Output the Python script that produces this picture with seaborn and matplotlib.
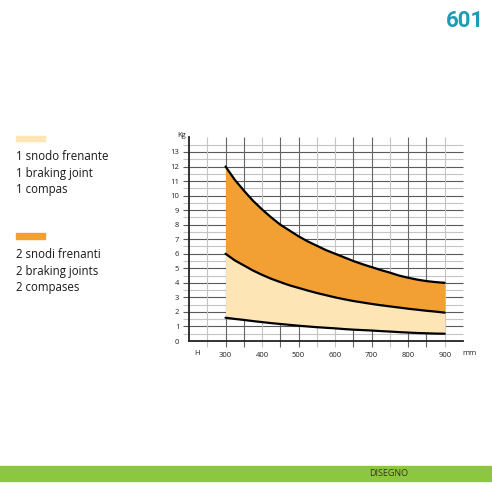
import seaborn as sns
import matplotlib.pyplot as plt
import pandas as pd
import numpy as np

# H (mm) vs weight (Kg), read every 25 mm
h = [300, 325, 350, 375, 400, 425, 450, 475, 500, 525, 550, 575, 600,
     625, 650, 675, 700, 725, 750, 775, 800, 825, 850, 875, 900]
kg_max_2 = [12.0, 11.1, 10.35, 9.65, 9.05, 8.5, 8.0, 7.6, 7.2, 6.85, 6.55, 6.25, 6.0,
            5.75, 5.5, 5.28, 5.08, 4.88, 4.7, 4.5, 4.35, 4.22, 4.12, 4.05, 4.0]
kg_mid = [6.0, 5.55, 5.2, 4.85, 4.55, 4.28, 4.05, 3.83, 3.65, 3.47, 3.3, 3.15, 3.0,
          2.87, 2.75, 2.65, 2.55, 2.46, 2.38, 2.3, 2.22, 2.15, 2.08, 2.02, 1.95]
kg_min_1 = [1.6, 1.52, 1.45, 1.37, 1.3, 1.23, 1.17, 1.11, 1.05, 1.0, 0.95, 0.91, 0.87,
            0.82, 0.78, 0.75, 0.72, 0.68, 0.65, 0.61, 0.58, 0.55, 0.53, 0.51, 0.5]

x_ticks = [300, 400, 500, 600, 700, 800, 900]
y_ticks = list(range(0, 14))
legend_1 = ["1 snodo frenante", "1 braking joint", "1 compas"]
legend_2 = ["2 snodi frenanti", "2 braking joints", "2 compases"]

light = "#FDE5B5"
orange = "#F29F33"

sns.set_style("white")
plt.rcParams['font.family'] = ['Open Sans', 'DejaVu Sans']

df = pd.DataFrame({"H": h, "top": kg_max_2, "mid": kg_mid, "low": kg_min_1})

fig = plt.figure(figsize=(4.92, 4.92), dpi=100)
ax = fig.add_axes([189/492, (492-341)/492, (463-189)/492, 14*14.54/492])
ax.set_xlim(200, 950)
ax.set_ylim(0, 14)

# grid
for v in np.arange(0.5, 14, 0.5):
    c = "#5a5a5a" if v == int(v) else "#c4c4c4"
    ax.hlines(v, 184, 950, color=c, lw=0.8, clip_on=False, zorder=1)
light_v = [250, 400, 550, 600, 750, 900]
for v in range(250, 901, 50):
    c = "#c4c4c4" if v in light_v else "#666666"
    ax.vlines(v, -0.4, 14, color=c, lw=0.8, clip_on=False, zorder=1)

ax.fill_between(df["H"], df["low"], df["mid"], color=light, zorder=2, lw=0)
ax.fill_between(df["H"], df["mid"], df["top"], color=orange, zorder=2, lw=0)
for col in ["top", "mid", "low"]:
    sns.lineplot(data=df, x="H", y=col, ax=ax, color="black", lw=1.6, zorder=3)

sns.despine(ax=ax, top=True, right=True)
for s in ["left", "bottom"]:
    ax.spines[s].set_color("#222222")
    ax.spines[s].set_linewidth(1.3)
ax.set_xticks(x_ticks)
ax.set_yticks(y_ticks)
ax.tick_params(length=0, labelsize=5.5, colors="#222222")
ax.tick_params(axis="x", pad=8)
ax.tick_params(axis="y", pad=7)
ax.set_xlabel("")
ax.set_ylabel("")
ax.text(222, -0.85, "H", ha="center", va="center", fontsize=5.5, color="#222222")
ax.text(967, -0.85, "mm", ha="center", va="center", fontsize=5.5, color="#222222", clip_on=False)
ax.text(180, 14.1, "Kg", ha="center", va="center", fontsize=5.5, color="#222222", clip_on=False)

# legend block
fig.patches.append(plt.Rectangle((16/492, 1-141/492), 29/492, 5/492, transform=fig.transFigure, color=light))
fig.patches.append(plt.Rectangle((16/492, 1-239/492), 29/492, 6/492, transform=fig.transFigure, color=orange))
for i, t in enumerate(legend_1):
    fig.text(16/492, 1-(157+16.5*i)/492, t, fontsize=8.3, va="center", color="#1a1a1a")
for i, t in enumerate(legend_2):
    fig.text(16/492, 1-(254+17*i)/492, t, fontsize=8.3, va="center", color="#1a1a1a")

# header and footer
fig.text(465/492, 1-21/492, "601", fontsize=16, fontweight="bold", color="#1E9BB5", ha="center", va="center",
         family=["Liberation Sans Narrow", "Roboto", "DejaVu Sans"])
fig.patches.append(plt.Rectangle((0, 1-481/492), 1, 15/492, transform=fig.transFigure, color="#8DC63F"))
fig.text(389/492, 1-473.5/492, "DISEGNO", fontsize=6.5, color="#333333", ha="center", va="center")

fig.savefig("out.png", dpi=100)
